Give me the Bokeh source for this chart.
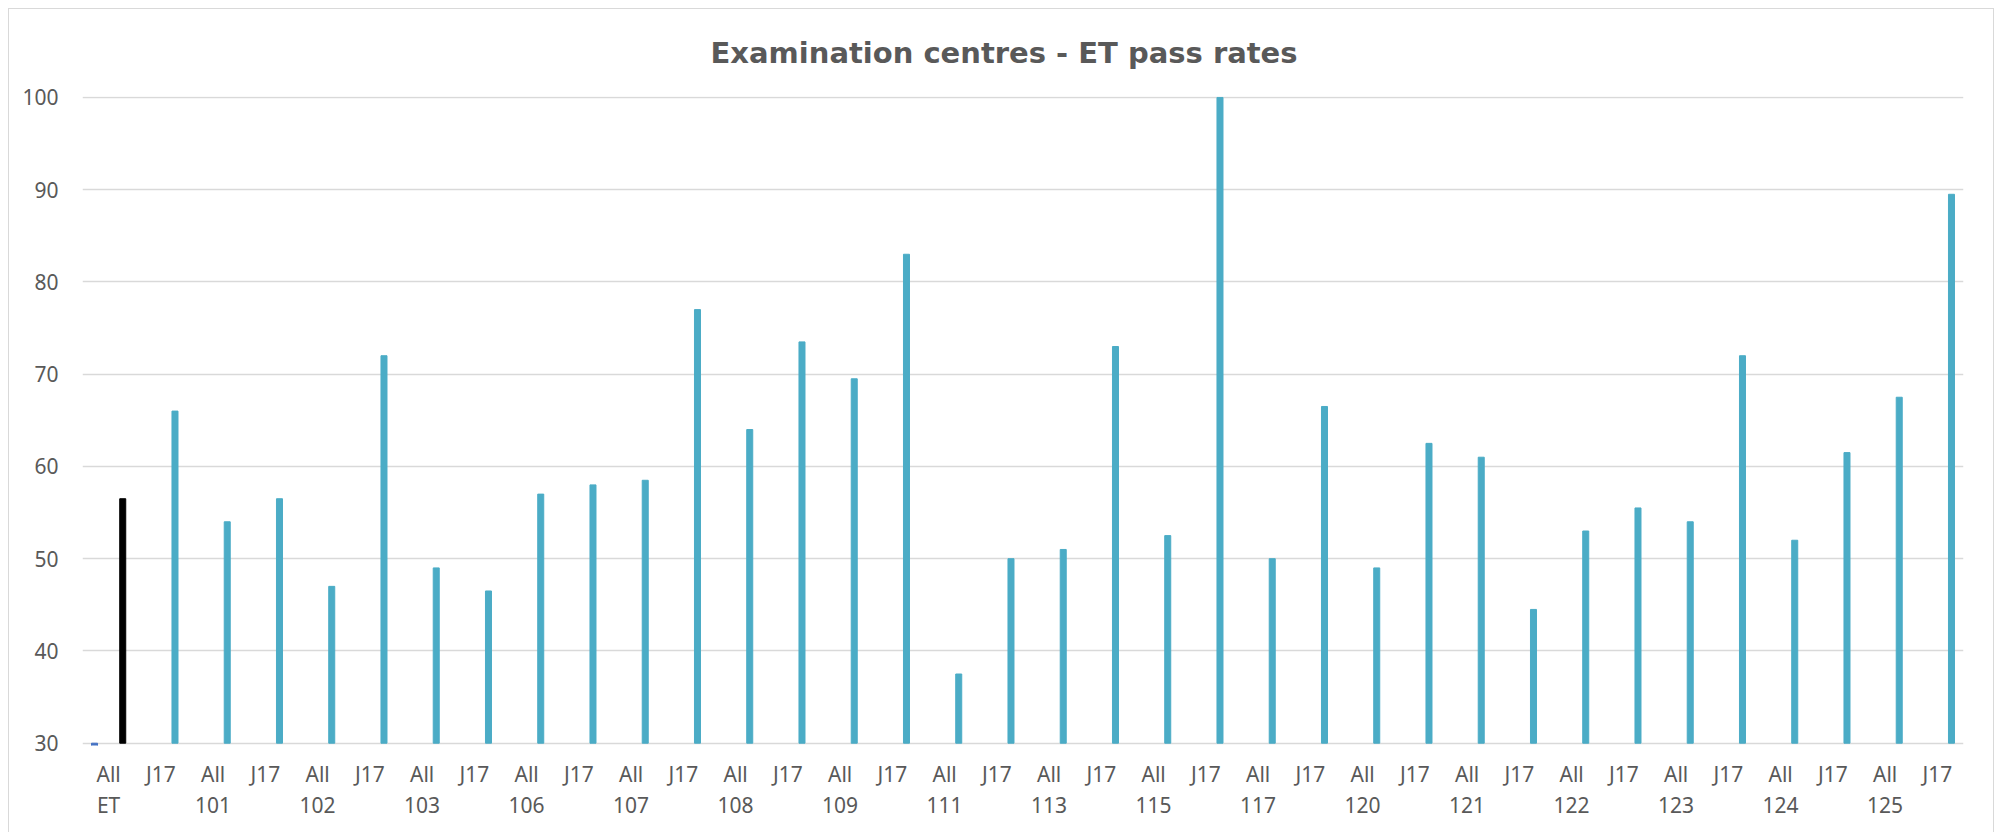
from bokeh.plotting import figure
from bokeh.models import Range1d, FixedTicker, LinearAxis, ColumnDataSource
from bokeh.embed import file_html
from bokeh.resources import INLINE

# ---- data ----
centres = ["ET", "101", "102", "103", "106", "107", "108", "109", "111",
           "113", "115", "117", "120", "121", "122", "123", "124", "125"]
subgroups = ["All", "J17"]
pass_rates = [56.5, 66, 54, 56.5, 47, 72, 49, 46.5, 57, 58,
              58.5, 77, 64, 73.5, 69.5, 83, 37.5, 50, 51, 73,
              52.5, 100, 50, 66.5, 49, 62.5, 61, 44.5, 53, 55.5,
              54, 72, 52, 61.5, 67.5, 89.5]
second_series = [0] + [None] * 35
bar_colors = ["#000000"] + ["#4BACC6"] * 35
y_ticks = [30, 40, 50, 60, 70, 80, 90, 100]

TEXT = "#595959"
GRID = "#D9D9D9"
TFONT = "DejaVu Sans"
FONT = "Noto Sans"
FSIZE = "21px"

n = len(pass_rates)
idx = list(range(n))
sub_labels = [subgroups[i % 2] for i in idx]
centre_ticks = [2 * k for k in range(len(centres))]

src = ColumnDataSource(dict(x=[i + 0.27 for i in idx], top=pass_rates, color=bar_colors))
x2 = [i - 0.27 for i, v in enumerate(second_series) if v is not None]
v2 = [v for v in second_series if v is not None]
src2 = ColumnDataSource(dict(x=x2, top=v2))

p = figure(width=1986, height=824, output_backend="svg", toolbar_location=None,
           x_range=Range1d(-0.5, n - 0.5), y_range=Range1d(29.75, 100.1),
           min_border_left=73, min_border_right=32, min_border_top=87, min_border_bottom=88,
           title="Examination centres - ET pass rates")
p.styles = {"border-top": "1px solid #D9D9D9", "border-left": "1px solid #D9D9D9",
            "border-right": "1px solid #D9D9D9",
            "margin-top": "8px", "margin-left": "8px"}

p.title.align = "left"
p.title.offset = 628
p.title.text_font = TFONT
p.title.text_font_style = "bold"
p.title.text_font_size = "29px"
p.title.text_color = TEXT
p.title.vertical_align = "middle"
p.title.standoff = 51

p.vbar(x="x", top="top", bottom=30, width=0.115, color="color", source=src)
p.vbar(x="x", top="top", bottom=30, width=0.115, color="#4472C4", source=src2)

p.outline_line_color = None
p.xgrid.grid_line_color = None
p.ygrid.grid_line_color = GRID
p.ygrid.grid_line_width = 1.5
p.ygrid.ticker = FixedTicker(ticks=y_ticks)


def style_axis(ax, standoff):
    ax.axis_line_color = None
    ax.major_tick_line_color = None
    ax.minor_tick_line_color = None
    ax.major_tick_out = 0
    ax.major_tick_in = 0
    ax.minor_tick_out = 0
    ax.minor_tick_in = 0
    ax.major_label_text_font = FONT
    ax.major_label_text_font_size = FSIZE
    ax.major_label_text_color = TEXT
    ax.major_label_standoff = standoff


yax = p.yaxis[0]
yax.ticker = FixedTicker(ticks=y_ticks)
style_axis(yax, 24)

xax = p.xaxis[0]
xax.ticker = FixedTicker(ticks=idx)
xax.major_label_overrides = {i: sub_labels[i] for i in idx}
style_axis(xax, 14)

xax2 = LinearAxis(ticker=FixedTicker(ticks=centre_ticks),
                  major_label_overrides={t: c for t, c in zip(centre_ticks, centres)})
style_axis(xax2, 0)
p.add_layout(xax2, "below")

open("out.html", "w").write(file_html(p, INLINE))
